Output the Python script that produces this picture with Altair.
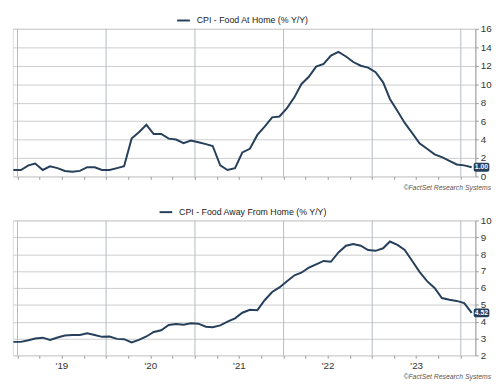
import altair as alt
import pandas as pd

# ---- data -------------------------------------------------------------
first_month = "2018-12-15"
n_months = 63
food_at_home = [0.7, 0.7, 1.2, 1.4, 0.7, 1.1, 0.9, 0.6, 0.5, 0.6,
                1.0, 1.0, 0.7, 0.7, 0.9, 1.1, 4.1, 4.8, 5.6, 4.6,
                4.6, 4.1, 4.0, 3.6, 3.9, 3.7, 3.5, 3.3, 1.2, 0.7,
                0.9, 2.6, 3.0, 4.5, 5.4, 6.4, 6.5, 7.4, 8.6, 10.0,
                10.8, 11.9, 12.2, 13.1, 13.5, 13.0, 12.4, 12.0, 11.8, 11.3,
                10.2, 8.4, 7.1, 5.8, 4.7, 3.6, 3.0, 2.4, 2.1, 1.7,
                1.3, 1.2, 1.0]
food_away = [2.8, 2.8, 2.9, 3.0, 3.05, 2.92, 3.06, 3.18, 3.21, 3.21,
             3.31, 3.21, 3.1, 3.12, 2.98, 2.96, 2.77, 2.92, 3.12, 3.39,
             3.49, 3.8, 3.86, 3.82, 3.9, 3.88, 3.7, 3.67, 3.78, 4.0,
             4.2, 4.53, 4.7, 4.68, 5.27, 5.76, 6.03, 6.4, 6.75, 6.9,
             7.2, 7.4, 7.6, 7.55, 8.1, 8.5, 8.6, 8.5, 8.25, 8.2,
             8.35, 8.75, 8.55, 8.25, 7.6, 6.95, 6.4, 6.0, 5.4, 5.3,
             5.23, 5.1, 4.52]
series_top = "CPI - Food At Home (% Y/Y)"
series_bottom = "CPI - Food Away From Home (% Y/Y)"
year_starts = ["2019-01-01T00:00:00", "2020-01-01T00:00:00", "2021-01-01T00:00:00",
               "2022-01-01T00:00:00", "2023-01-01T00:00:00", "2024-01-01T00:00:00"]
y_ticks_top = [0, 2, 4, 6, 8, 10, 12, 14, 16]
y_ticks_bottom = [2, 3, 4, 5, 6, 7, 8, 9, 10]
credit = "\u00a9FactSet Research Systems"

# ---- styling ------------------------------------------------------------
LINE = "#263f5a"
FONT = "Liberation Sans"
W = 473
X_DOMAIN = [alt.DateTime(year=2018, month=12, date=13),
            alt.DateTime(year=2024, month=3, date=1)]
QUARTERS = [alt.DateTime(year=y, month=m, date=1)
            for y in range(2019, 2025) for m in (1, 4, 7, 10)
            if not (y == 2024 and m > 1)]

dates = (pd.date_range("2018-12-01", periods=n_months, freq="MS")
         + pd.Timedelta(days=14)).strftime("%Y-%m-%dT00:00:00")


def panel(values, name, ticks, height, legend_x, show_labels):
    df = pd.DataFrame({"date": list(dates), "v": values, "s": name})
    last = df.tail(1)
    years = pd.DataFrame({"date": year_starts})

    x_scale = alt.Scale(domain=X_DOMAIN)
    x_axis = alt.Axis(
        values=QUARTERS, grid=False, domain=False, ticks=True, tickSize=3,
        tickColor="#9a9a9a", labels=show_labels, title=None,
        labelExpr="month(datum.value) == 6 ? timeFormat(datum.value, \"'%y\") : ''",
        labelFontSize=10, labelColor="#333", labelPadding=2, labelFont=FONT,
        labelOverlap=False,
    )
    y_scale = alt.Scale(domain=[ticks[0], ticks[-1]], nice=False, zero=False)
    y_axis = alt.Axis(
        orient="right", values=ticks, grid=True, gridColor="#cccccc",
        gridWidth=1, domain=True, domainColor="#9a9a9a", tickColor="#9a9a9a",
        tickSize=3, labelFontSize=10, labelColor="#333", labelPadding=2,
        labelFont=FONT, title=None, labelAlign="left", labelOverlap=False,
    )
    X = alt.X("date:T", scale=x_scale, axis=x_axis)
    Y = alt.Y("v:Q", scale=y_scale, axis=y_axis)

    vgrid = alt.Chart(years).mark_rule(color="#b3bbc3", strokeWidth=1).encode(x=X)
    line = alt.Chart(df).mark_line(strokeWidth=2).encode(
        x=X,
        y=Y,
        color=alt.Color(
            "s:N",
            scale=alt.Scale(domain=[name], range=[LINE]),
            legend=alt.Legend(
                orient="none", legendX=legend_x, legendY=-16, title=None,
                symbolType="stroke", symbolSize=169, symbolStrokeWidth=2,
                labelFontSize=9, labelFont=FONT, labelColor="#222",
                padding=0, labelOffset=6,
            ),
        ),
    )
    box = alt.Chart(last).mark_rect(
        width=16, height=9, cornerRadius=2, color=LINE, xOffset=10
    ).encode(x=X, y=Y)
    lab = alt.Chart(last).mark_text(
        fontSize=7, color="white", fontWeight="bold", xOffset=10, font=FONT
    ).encode(x=X, y=Y, text=alt.Text("v:Q", format=".2f"))

    return alt.layer(vgrid, line, box, lab).properties(
        width=W, height=height,
        title=alt.TitleParams(
            credit, orient="bottom", anchor="end", frame="bounds",
            fontSize=7, fontStyle="italic", fontWeight="normal",
            color="#555", font=FONT, offset=3,
        ),
    )


top = panel(food_at_home, series_top, y_ticks_top, 151, 167, False)
bottom = panel(food_away, series_bottom, y_ticks_bottom, 138, 149, True)

chart = alt.vconcat(top, bottom, spacing=12).resolve_scale(
    color="independent", x="independent", y="independent"
).resolve_legend(color="independent").properties(
    padding={"left": 0, "top": 0, "right": 0, "bottom": 0}
).configure_view(stroke="transparent").configure(font=FONT, background="white")

chart.save("out.html", embed_options={"renderer": "svg", "actions": False})
